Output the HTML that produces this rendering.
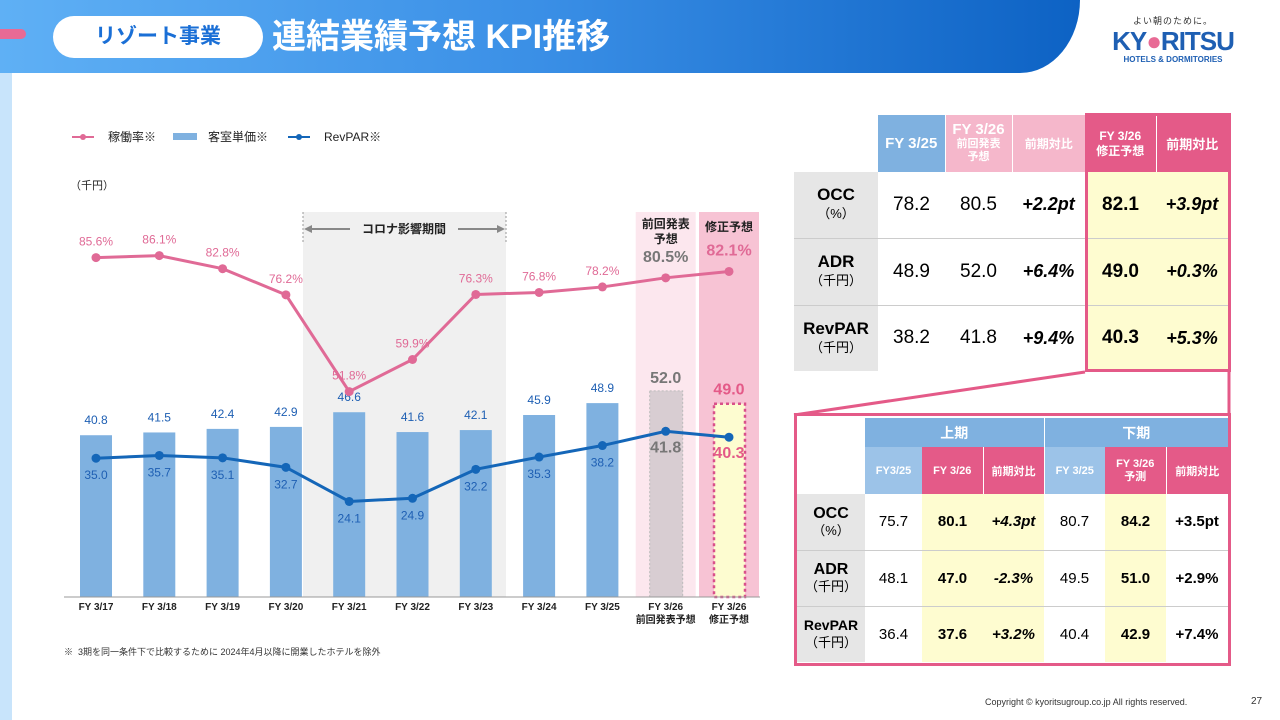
<!DOCTYPE html>
<html><head><meta charset="utf-8">
<style>
*{margin:0;padding:0;box-sizing:border-box}
body{width:1280px;height:720px;position:relative;background:#fff;font-family:"Liberation Sans","Noto Sans CJK JP",sans-serif;overflow:hidden}
.abs{position:absolute}
table{border-collapse:collapse;position:absolute;table-layout:fixed}
td{text-align:center;vertical-align:middle;padding:0}
</style></head><body>
<div class="abs" style="left:0;top:0;width:1080px;height:73px;background:linear-gradient(90deg,#5fb0f5,#3a8fe6 50%,#0d62c4);border-bottom-right-radius:60px 73px"></div>
<div class="abs" style="left:0;top:73px;width:12px;height:647px;background:#c8e4fb"></div>
<div class="abs" style="left:0;top:29px;width:26px;height:10px;background:#e86a95;border-radius:0 5px 5px 0"></div>
<div class="abs" style="left:53px;top:16px;width:210px;height:42px;background:#fff;border-radius:21px;color:#1a6fd6;font-size:21px;font-weight:bold;line-height:42px;text-align:center">リゾート事業</div>
<div class="abs" style="left:272px;top:15px;color:#fff;font-size:34px;font-weight:bold;line-height:44px">連結業績予想 KPI推移</div>
<div class="abs" style="left:1108px;top:14px;width:130px;text-align:center">
<div style="font-size:9px;color:#333;letter-spacing:1px">よい朝のために。</div>
<div style="font-size:26px;font-weight:bold;color:#1e5fb3;line-height:28px;letter-spacing:-1px">KY<span style="color:#e86a95">●</span>RITSU</div>
<div style="font-size:8px;font-weight:bold;color:#1e5fb3">HOTELS &amp; DORMITORIES</div></div>

<svg class="abs" style="left:0;top:0" width="780" height="680" id="chart"></svg>
<div class="abs" style="left:64px;top:645px;font-size:9px;color:#333">※&nbsp; 3期を同一条件下で比較するために 2024年4月以降に開業したホテルを除外</div>
<div class="abs" style="left:985px;top:697px;font-size:9px;color:#333">Copyright © kyoritsugroup.co.jp All rights reserved.</div>
<div class="abs" style="left:1251px;top:696px;font-size:10px;color:#333">27</div>

<table style="left:794px;top:115px;width:434px;font-size:19px">
<colgroup><col style="width:84px"><col style="width:67px"><col style="width:67px"><col style="width:73px"><col style="width:71px"><col style="width:72px"></colgroup>
<tr style="height:57px;color:#fff;font-weight:bold">
<td></td><td style="background:#7fb1e0;font-size:15px">FY 3/25</td>
<td style="background:#f5b7cb;font-size:11px;border-left:1px solid #fff;line-height:13px"><span style="font-size:15px">FY 3/26</span><br>前回発表<br>予想</td>
<td style="background:#f5b7cb;font-size:12px;border-left:1px solid #fff">前期対比</td>
<td style="background:#e45a88;font-size:12px;line-height:15px">FY 3/26<br>修正予想</td>
<td style="background:#e45a88;font-size:13px;border-left:1px solid #fff">前期対比</td></tr>
<tr style="height:66px;border-bottom:1px solid #ccc"><td style="background:#e6e6e6;font-weight:bold;line-height:18px;font-size:17px">OCC<br><span style="font-size:13px;font-weight:normal">（%）</span></td><td>78.2</td><td>80.5</td><td style="font-weight:bold;font-style:italic;font-size:18px">+2.2pt</td><td style="background:#fefcd0;font-weight:bold">82.1</td><td style="background:#fefcd0;font-weight:bold;font-style:italic;font-size:18px">+3.9pt</td></tr>
<tr style="height:67px;border-bottom:1px solid #ccc"><td style="background:#e6e6e6;font-weight:bold;line-height:18px;font-size:17px">ADR<br><span style="font-size:13px;font-weight:normal">（千円）</span></td><td>48.9</td><td>52.0</td><td style="font-weight:bold;font-style:italic;font-size:18px">+6.4%</td><td style="background:#fefcd0;font-weight:bold">49.0</td><td style="background:#fefcd0;font-weight:bold;font-style:italic;font-size:18px">+0.3%</td></tr>
<tr style="height:66px"><td style="background:#e6e6e6;font-weight:bold;line-height:18px;font-size:17px">RevPAR<br><span style="font-size:13px;font-weight:normal">（千円）</span></td><td>38.2</td><td>41.8</td><td style="font-weight:bold;font-style:italic;font-size:18px">+9.4%</td><td style="background:#fefcd0;font-weight:bold">40.3</td><td style="background:#fefcd0;font-weight:bold;font-style:italic;font-size:18px">+5.3%</td></tr>
</table>
<div class="abs" style="left:1085px;top:113px;width:146px;height:259px;border:3px solid #e45a88"></div>
<svg class="abs" style="left:780px;top:360px" width="500" height="60"><line x1="305" y1="12" x2="14" y2="55" stroke="#e45a88" stroke-width="3"/><line x1="449" y1="12" x2="449" y2="55" stroke="#e45a88" stroke-width="3"/></svg>

<div class="abs" style="left:794px;top:413px;width:437px;height:253px;border:3px solid #e45a88"></div>
<table style="left:797px;top:418px;width:431px;font-size:15px">
<colgroup><col style="width:68px"><col style="width:57px"><col style="width:61px"><col style="width:61px"><col style="width:61px"><col style="width:61px"><col style="width:62px"></colgroup>
<tr style="height:29px;color:#fff;font-weight:bold;font-size:14px"><td></td><td colspan="3" style="background:#7fb1e0">上期</td><td colspan="3" style="background:#7fb1e0;border-left:1px solid #fff">下期</td></tr>
<tr style="height:47px;color:#fff;font-weight:bold;font-size:11px"><td></td><td style="background:#9cc3e8">FY3/25</td><td style="background:#e45a88">FY 3/26</td><td style="background:#e45a88;border-left:1px solid #fff">前期対比</td><td style="background:#9cc3e8;border-left:1px solid #fff">FY 3/25</td><td style="background:#e45a88;line-height:13px">FY 3/26<br>予測</td><td style="background:#e45a88;border-left:1px solid #fff">前期対比</td></tr>
<tr style="height:56px;border-bottom:1px solid #ccc"><td style="background:#e6e6e6;font-weight:bold;font-size:16px;line-height:17px">OCC<br><span style="font-size:13px;font-weight:normal">（%）</span></td><td>75.7</td><td style="background:#fefcd0;font-weight:bold">80.1</td><td style="background:#fefcd0;font-weight:bold;font-style:italic">+4.3pt</td><td>80.7</td><td style="background:#fefcd0;font-weight:bold">84.2</td><td style="font-weight:bold">+3.5pt</td></tr>
<tr style="height:56px;border-bottom:1px solid #ccc"><td style="background:#e6e6e6;font-weight:bold;font-size:16px;line-height:17px">ADR<br><span style="font-size:13px;font-weight:normal">（千円）</span></td><td>48.1</td><td style="background:#fefcd0;font-weight:bold">47.0</td><td style="background:#fefcd0;font-weight:bold;font-style:italic">-2.3%</td><td>49.5</td><td style="background:#fefcd0;font-weight:bold">51.0</td><td style="font-weight:bold">+2.9%</td></tr>
<tr style="height:56px"><td style="background:#e6e6e6;font-weight:bold;font-size:14px;line-height:17px">RevPAR<br><span style="font-size:13px;font-weight:normal">（千円）</span></td><td>36.4</td><td style="background:#fefcd0;font-weight:bold">37.6</td><td style="background:#fefcd0;font-weight:bold;font-style:italic">+3.2%</td><td>40.4</td><td style="background:#fefcd0;font-weight:bold">42.9</td><td style="font-weight:bold">+7.4%</td></tr>
</table>

<script>
const categories=["FY 3/17","FY 3/18","FY 3/19","FY 3/20","FY 3/21","FY 3/22","FY 3/23","FY 3/24","FY 3/25","FY 3/26|前回発表予想","FY 3/26|修正予想"];
const adrValues=[40.8,41.5,42.4,42.9,46.6,41.6,42.1,45.9,48.9,52.0,49.0];
const occValues=[85.6,86.1,82.8,76.2,51.8,59.9,76.3,76.8,78.2,80.5,82.1];
const revparValues=[35.0,35.7,35.1,32.7,24.1,24.9,32.2,35.3,38.2,41.8,40.3];
const NS="http://www.w3.org/2000/svg";
const svg=document.getElementById('chart');
const xs=i=>96+i*63.3;
const ys=v=>597-3.965*v;
function mk(t,a,txt){const e=document.createElementNS(NS,t);for(const k in a)e.setAttribute(k,a[k]);if(txt!==undefined)e.textContent=txt;svg.appendChild(e);return e;}
const F='"Liberation Sans","Noto Sans CJK JP",sans-serif';
let e=mk('rect',{x:303,y:212,width:203,height:385,fill:'#f0f0f0'});


e=mk('rect',{x:xs(9)-30,y:212,width:60,height:385,fill:'#fce7ee'});


e=mk('rect',{x:xs(10)-30,y:212,width:60,height:385,fill:'#f7c3d4'});


mk('line',{x1:303,y1:212,x2:303,y2:242,stroke:'#999','stroke-dasharray':'2,2'});
mk('line',{x1:506,y1:212,x2:506,y2:242,stroke:'#999','stroke-dasharray':'2,2'});
mk('line',{x1:306,y1:229,x2:350,y2:229,stroke:'#888','stroke-width':2});
mk('line',{x1:458,y1:229,x2:503,y2:229,stroke:'#888','stroke-width':2});
mk('path',{d:'M304,229 l8,-4 v8z M505,229 l-8,-4 v8z',fill:'#888'});
e=mk('text',{x:404,y:233,'text-anchor':'middle','font-size':12,'font-weight':'bold',fill:'#222','font-family':F},'コロナ影響期間');


mk('text',{x:xs(9),y:228,'text-anchor':'middle','font-size':12,'font-weight':'bold',fill:'#222','font-family':F},'前回発表');
mk('text',{x:xs(9),y:243,'text-anchor':'middle','font-size':12,'font-weight':'bold',fill:'#222','font-family':F},'予想');
mk('text',{x:xs(10),y:231,'text-anchor':'middle','font-size':12,'font-weight':'bold',fill:'#222','font-family':F},'修正予想');
adrValues.forEach((v,i)=>{
 const x=xs(i)-16,y=ys(v),h=597-y;let b,lc='#1e5fb3',fs=12,fw='normal';
 if(i===9){b=mk('rect',{x:x,y:y,width:33,height:h,fill:'#d8cdd2',stroke:'#bbb','stroke-dasharray':'2,2'});lc='#777';fs=16;fw='bold';}
 else if(i===10){b=mk('rect',{x:x+1,y:y+1,width:31,height:h-1,fill:'#fdfcd0',stroke:'#d9508a','stroke-width':2.5,'stroke-dasharray':'3,3'});lc='#e45a88';fs=16;fw='bold';}
 else b=mk('rect',{x:x,y:y,width:32,height:h,fill:'#7fb1e0'});
 
 
 const t=mk('text',{x:xs(i),y:y-(i>=9?8:11),'text-anchor':'middle','font-size':fs,'font-weight':fw,fill:lc,'font-family':F},v.toFixed(1));
 
 
});
mk('line',{x1:64,y1:597,x2:760,y2:597,stroke:'#999'});
function line(vals,color,name){
 const p=mk('polyline',{points:vals.map((v,i)=>xs(i)+','+ys(v)).join(' '),fill:'none',stroke:color,'stroke-width':3});
 
 
 vals.forEach((v,i)=>{const c=mk('circle',{cx:xs(i),cy:ys(v),r:4.5,fill:color});
 
 });
}
line(occValues,'#e06a96','occ');line(revparValues,'#1466b8','revpar');
occValues.forEach((v,i)=>{
 let c='#e06a96',fs=12,fw='normal';if(i===9){c='#777';fs=16;fw='bold';}if(i===10){fs=16;fw='bold';}
 const t=mk('text',{x:xs(i),y:ys(v)-(i>=9?16:12),'text-anchor':'middle','font-size':fs,'font-weight':fw,fill:c,'font-family':F},v.toFixed(1)+'%');
 
 
});
revparValues.forEach((v,i)=>{
 let c='#1e5fb3',fs=12,fw='normal';if(i===9){c='#777';fs=16;fw='bold';}if(i===10){c='#e45a88';fs=16;fw='bold';}
 const t=mk('text',{x:xs(i),y:ys(v)+21,'text-anchor':'middle','font-size':fs,'font-weight':fw,fill:c,'font-family':F},v.toFixed(1));
 
 
});
categories.forEach((c,i)=>{
 c.split('|').forEach((s,j)=>{const t=mk('text',{x:xs(i),y:610+j*13,'text-anchor':'middle','font-size':10,'font-weight':'bold',fill:'#222','font-family':F},s);
 
 });
});
const lg=[['occ','#e06a96','稼働率※',72],['adr','#7fb1e0','客室単価※',173],['revpar','#1466b8','RevPAR※',288]];
lg.forEach(([n,c,l,x])=>{
 if(n==='adr')mk('rect',{x:x,y:133,width:24,height:7,fill:c});
 else{mk('line',{x1:x,y1:137,x2:x+22,y2:137,stroke:c,'stroke-width':2});mk('circle',{cx:x+11,cy:137,r:3,fill:c});}
 const t=mk('text',{x:x+(n==='adr'?35:36),y:141,'font-size':12,fill:'#222','font-family':F},l);
 
 
});
e=mk('text',{x:70,y:189,'font-size':11,fill:'#222','font-family':F},'（千円）');


</script>
</body></html>
